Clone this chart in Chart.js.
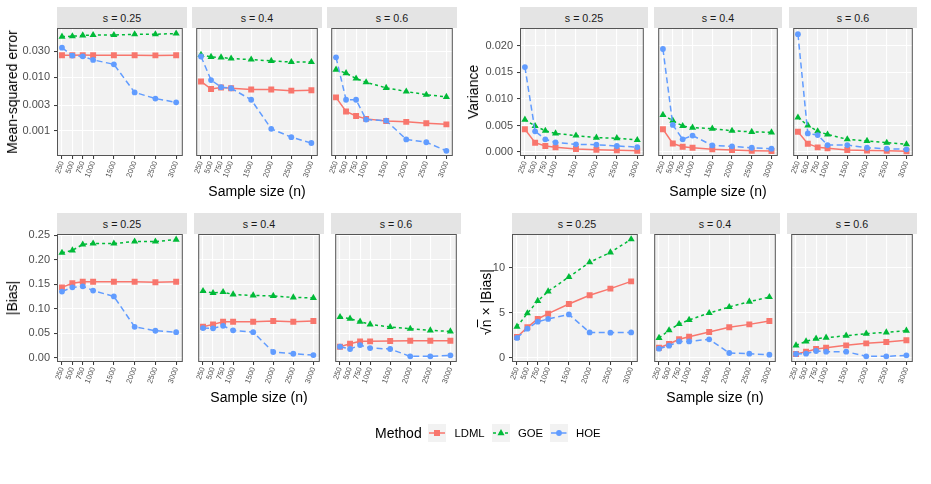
<!DOCTYPE html>
<html>
<head>
<meta charset="utf-8">
<script src="https://cdn.jsdelivr.net/npm/chart.js@4.4.1/dist/chart.umd.min.js"></script>
<style>
  html, body { margin: 0; padding: 0; background: #ffffff; }
  #root { position: relative; width: 931px; height: 484px; overflow: hidden; background: #ffffff;
          font-family: "Liberation Sans", Arial, Helvetica, sans-serif; }
  .strip { position: absolute; background: #E4E4E4; color: #1a1a1a; font-size: 10.7px;
           display: flex; align-items: center; justify-content: center; }
  .ttl { position: absolute; white-space: nowrap; color: #000; font-size: 14px; transform: translate(-50%, -50%); }
  .ttlv { position: absolute; white-space: nowrap; color: #000; font-size: 14px; transform: translate(-50%, -50%) rotate(-90deg); }
  .leg { position: absolute; white-space: nowrap; color: #000; transform: translateY(-50%); }
</style>
</head>
<body>
<div id="root"></div>
<script>
// ---------------- data ----------------
const sampleSizes = [250, 500, 750, 1000, 1500, 2000, 2500, 3000];
const xTickLabels = ['250', '500', '750', '1000', '1500', '2000', '2500', '3000'];
const facetLabels = ['s = 0.25', 's = 0.4', 's = 0.6'];
const methodNames = ['LDML', 'GOE', 'HOE'];

const mseTicks = [0.001, 0.003, 0.01, 0.03];
const mseTickLabels = ['0.001', '0.003', '0.010', '0.030'];
const varTicks = [0, 0.005, 0.01, 0.015, 0.02];
const varTickLabels = ['0.000', '0.005', '0.010', '0.015', '0.020'];
const biasTicks = [0, 0.05, 0.10, 0.15, 0.20, 0.25];
const biasTickLabels = ['0.00', '0.05', '0.10', '0.15', '0.20', '0.25'];
const rootTicks = [0, 5, 10];
const rootTickLabels = ['0', '5', '10'];

// Mean-squared error, one row per facet (s = 0.25, 0.4, 0.6)
const mseLDML = [
  [0.0254, 0.0254, 0.0255, 0.0254, 0.0254, 0.0254, 0.0252, 0.0253],
  [0.0083, 0.0060, 0.0064, 0.0062, 0.0059, 0.0059, 0.0056, 0.0057],
  [0.0042, 0.0023, 0.0019, 0.00168, 0.00154, 0.00148, 0.0014, 0.00133]
];
const mseGOE = [
  [0.056, 0.057, 0.059, 0.060, 0.060, 0.062, 0.062, 0.064],
  [0.0257, 0.0236, 0.0231, 0.022, 0.0211, 0.0199, 0.019, 0.019],
  [0.0137, 0.0118, 0.0094, 0.008, 0.0063, 0.0054, 0.0047, 0.0043]
];
const mseHOE = [
  [0.035, 0.025, 0.0242, 0.0208, 0.0172, 0.0052, 0.0040, 0.0034],
  [0.024, 0.0088, 0.0065, 0.0062, 0.0038, 0.0011, 0.00077, 0.0006],
  [0.0232, 0.0038, 0.0038, 0.00163, 0.00156, 0.0007, 0.00062, 0.00043]
];

// Variance
const varLDML = [
  [0.0043, 0.00175, 0.00113, 0.00088, 0.00056, 0.00044, 0.00031, 0.00025],
  [0.0043, 0.0016, 0.0010, 0.0008, 0.0005, 0.00038, 0.00025, 0.0002],
  [0.0038, 0.00156, 0.00088, 0.0007, 0.00038, 0.0003, 0.00025, 0.00013]
];
const varGOE = [
  [0.0061, 0.0049, 0.0040, 0.0035, 0.0031, 0.0027, 0.0026, 0.00226],
  [0.0070, 0.0059, 0.0049, 0.0046, 0.0044, 0.0040, 0.0038, 0.0037],
  [0.0065, 0.0050, 0.0039, 0.0033, 0.0024, 0.0021, 0.00175, 0.00145]
];
const varHOE = [
  [0.0160, 0.0039, 0.0024, 0.0018, 0.00145, 0.00138, 0.00113, 0.00094],
  [0.0194, 0.0051, 0.0024, 0.0031, 0.00125, 0.00107, 0.0008, 0.00063],
  [0.0222, 0.0035, 0.0032, 0.0013, 0.0013, 0.0008, 0.00063, 0.0005]
];

// |Bias|
const biasLDML = [
  [0.1435, 0.152, 0.155, 0.155, 0.155, 0.155, 0.154, 0.155],
  [0.063, 0.068, 0.0735, 0.0735, 0.0735, 0.075, 0.0735, 0.075],
  [0.0224, 0.0286, 0.0333, 0.0333, 0.034, 0.0347, 0.0347, 0.0347]
];
const biasGOE = [
  [0.214, 0.219, 0.231, 0.233, 0.233, 0.237, 0.237, 0.241],
  [0.136, 0.132, 0.134, 0.129, 0.127, 0.126, 0.123, 0.122],
  [0.083, 0.0796, 0.0735, 0.068, 0.0626, 0.059, 0.0558, 0.0537]
];
const biasHOE = [
  [0.135, 0.1435, 0.1456, 0.137, 0.125, 0.063, 0.055, 0.052],
  [0.0605, 0.060, 0.065, 0.0558, 0.052, 0.0116, 0.008, 0.0054],
  [0.0224, 0.0177, 0.0258, 0.0197, 0.0177, 0.0027, 0.0027, 0.0048]
];

// sqrt(n) x |Bias|
const rootLDML = [
  [2.30, 3.37, 4.30, 4.89, 5.96, 6.93, 7.67, 8.48],
  [1.11, 1.52, 2.04, 2.33, 2.85, 3.37, 3.70, 4.07],
  [0.41, 0.67, 0.96, 1.11, 1.37, 1.59, 1.74, 1.93]
];
const rootGOE = [
  [3.44, 4.93, 6.30, 7.37, 8.96, 10.6, 11.7, 13.15],
  [2.19, 3.04, 3.74, 4.19, 4.96, 5.63, 6.22, 6.74],
  [1.37, 1.81, 2.11, 2.22, 2.44, 2.67, 2.81, 3.00]
];
const rootHOE = [
  [2.19, 3.22, 4.00, 4.30, 4.81, 2.81, 2.78, 2.81],
  [1.00, 1.33, 1.81, 1.81, 2.04, 0.52, 0.44, 0.33],
  [0.41, 0.44, 0.74, 0.67, 0.67, 0.15, 0.15, 0.26]
];

// ---------------- styles / layout ----------------
const FONT = '"Liberation Sans", Arial, Helvetica, sans-serif';
const COLORS = { LDML: '#F8766D', GOE: '#00BA38', HOE: '#619CFF' };
const DASH = { LDML: [], GOE: [3, 3], HOE: [6, 3.5] };
const SHAPE = { LDML: 'rect', GOE: 'triangle', HOE: 'circle' };
const RADIUS = { LDML: 4.2, GOE: 4.1, HOE: 2.9 };
const PANEL_BG = '#F2F2F2';

const groups = [
  { lefts: [57, 192, 327], w: 130, top: 28, h: 128, yType: 'logarithmic', min: 0.000345, max: 0.081,
    ticks: mseTicks, tickLabels: mseTickLabels, data: { LDML: mseLDML, GOE: mseGOE, HOE: mseHOE },
    yTitle: 'Mean-squared error', yTitlePos: [12, 92], xTitlePos: [257, 191] },
  { lefts: [520, 654, 789], w: 128, top: 28, h: 128, yType: 'linear', min: -0.00075, max: 0.02336,
    ticks: varTicks, tickLabels: varTickLabels, data: { LDML: varLDML, GOE: varGOE, HOE: varHOE },
    yTitle: 'Variance', yTitlePos: [473, 92], xTitlePos: [718, 191] },
  { lefts: [57, 194, 331], w: 130, top: 234, h: 128, yType: 'linear', min: -0.0088, max: 0.2524,
    ticks: biasTicks, tickLabels: biasTickLabels, data: { LDML: biasLDML, GOE: biasGOE, HOE: biasHOE },
    yTitle: '|Bias|', yTitlePos: [12, 298], xTitlePos: [259, 396.5] },
  { lefts: [512, 650, 787], w: 130, top: 234, h: 128, yType: 'linear', min: -0.48, max: 13.74,
    ticks: rootTicks, tickLabels: rootTickLabels, data: { LDML: rootLDML, GOE: rootGOE, HOE: rootHOE },
    yTitleHTML: '&radic;<span style="text-decoration:overline">n</span> &times; |Bias|', yTitlePos: [485.5, 302], xTitlePos: [715, 396.5] }
];

const root = document.getElementById('root');

const panelPlugin = {
  id: 'panelFrame',
  beforeDraw(chart) {
    const a = chart.chartArea, ctx = chart.ctx;
    ctx.save();
    ctx.fillStyle = PANEL_BG;
    ctx.fillRect(a.left, a.top, a.right - a.left, a.bottom - a.top);
    ctx.restore();
  },
  afterDatasetsDraw(chart) {
    const a = chart.chartArea, ctx = chart.ctx;
    ctx.save();
    ctx.strokeStyle = '#555555';
    ctx.lineWidth = 1;
    ctx.strokeRect(a.left + 0.5, a.top + 0.5, a.right - a.left - 1, a.bottom - a.top - 1);
    ctx.restore();
  }
};

function makePanel(g, i) {
  const yW = i === 0 ? 46 : 0;
  const xH = 30;
  const padT = 8;
  const cv = document.createElement('canvas');
  cv.width = g.w + yW;
  cv.height = g.h + xH + padT;
  cv.style.position = 'absolute';
  cv.style.left = (g.lefts[i] - yW) + 'px';
  cv.style.top = (g.top - padT) + 'px';
  root.appendChild(cv);

  const order = ['HOE', 'GOE', 'LDML']; // first dataset drawn on top
  const datasets = order.map(m => ({
    label: m,
    data: sampleSizes.map((n, k) => ({ x: n, y: g.data[m][i][k] })),
    borderColor: COLORS[m],
    backgroundColor: COLORS[m],
    borderWidth: 1.5,
    borderDash: DASH[m],
    pointStyle: SHAPE[m],
    pointRadius: RADIUS[m],
    pointBorderWidth: 0,
    pointBackgroundColor: COLORS[m],
    tension: 0,
    fill: false
  }));

  new Chart(cv, {
    type: 'line',
    data: { datasets },
    plugins: [panelPlugin],
    options: {
      responsive: false,
      animation: false,
      devicePixelRatio: 1,
      layout: { padding: { top: padT, left: 0, right: 0, bottom: 0 } },
      plugins: { legend: { display: false }, tooltip: { enabled: false } },
      scales: {
        x: {
          type: 'linear', min: 130, max: 3160, bounds: 'data',
          afterBuildTicks: s => { s.ticks = sampleSizes.map(v => ({ value: v })); },
          afterFit: s => { s.height = xH; s.paddingLeft = 0; s.paddingRight = 0; },
          ticks: {
            autoSkip: false, minRotation: 70, maxRotation: 70, padding: 1,
            color: '#4d4d4d', font: { size: 7.5, family: FONT },
            callback: (v, idx) => xTickLabels[idx]
          },
          grid: { color: '#ffffff', lineWidth: 1.1, drawTicks: true, tickLength: 3, tickColor: '#333333', tickWidth: 1 },
          border: { display: false }
        },
        y: {
          type: g.yType, min: g.min, max: g.max, bounds: 'data',
          afterBuildTicks: s => { s.ticks = g.ticks.map(v => ({ value: v })); },
          afterFit: s => { s.width = yW; s.paddingTop = 0; s.paddingBottom = 0; },
          ticks: {
            display: i === 0, autoSkip: false, padding: 4,
            color: '#4d4d4d', font: { size: 11, family: FONT },
            callback: (v, idx) => g.tickLabels[idx]
          },
          grid: { color: '#ffffff', lineWidth: 1.1, drawTicks: i === 0, tickLength: 3, tickColor: '#333333', tickWidth: 1 },
          border: { display: false }
        }
      }
    }
  });

  const strip = document.createElement('div');
  strip.className = 'strip';
  strip.style.left = g.lefts[i] + 'px';
  strip.style.top = (g.top - 21) + 'px';
  strip.style.width = g.w + 'px';
  strip.style.height = '21px';
  strip.textContent = facetLabels[i];
  root.appendChild(strip);
}

function addDiv(cls, html, x, y, extra) {
  const d = document.createElement('div');
  d.className = cls;
  d.innerHTML = html;
  d.style.left = x + 'px';
  d.style.top = y + 'px';
  if (extra) Object.assign(d.style, extra);
  root.appendChild(d);
  return d;
}

groups.forEach(g => {
  for (let i = 0; i < 3; i++) makePanel(g, i);
  addDiv('ttlv', g.yTitleHTML || g.yTitle, g.yTitlePos[0], g.yTitlePos[1]);
  addDiv('ttl', 'Sample size (n)', g.xTitlePos[0], g.xTitlePos[1]);
});

// ---------------- legend ----------------
const legendY = 432.5;
addDiv('leg', 'Method', 375, legendY, { fontSize: '14px' });
const keyLefts = [428, 492, 549.5];
const labelLefts = [454.5, 518, 576];
methodNames.forEach((m, k) => {
  const c = COLORS[m];
  let shape;
  if (SHAPE[m] === 'rect') shape = `<rect x="6" y="6" width="6" height="6" fill="${c}"/>`;
  else if (SHAPE[m] === 'triangle') shape = `<polygon points="9,5 12.5,11.2 5.5,11.2" fill="${c}"/>`;
  else shape = `<circle cx="9" cy="9" r="2.9" fill="${c}"/>`;
  const dash = DASH[m].length ? `stroke-dasharray="${DASH[m].join(',')}"` : '';
  const svg = `<svg width="18" height="18" xmlns="http://www.w3.org/2000/svg">
    <rect x="0" y="0" width="18" height="18" fill="${PANEL_BG}"/>
    <line x1="1" y1="9" x2="17" y2="9" stroke="${c}" stroke-width="1.5" ${dash}/>
    ${shape}</svg>`;
  addDiv('leg', svg, keyLefts[k], legendY, { lineHeight: '0', height: '18px' });
  addDiv('leg', m, labelLefts[k], legendY, { fontSize: '11.3px' });
});
</script>
</body>
</html>
